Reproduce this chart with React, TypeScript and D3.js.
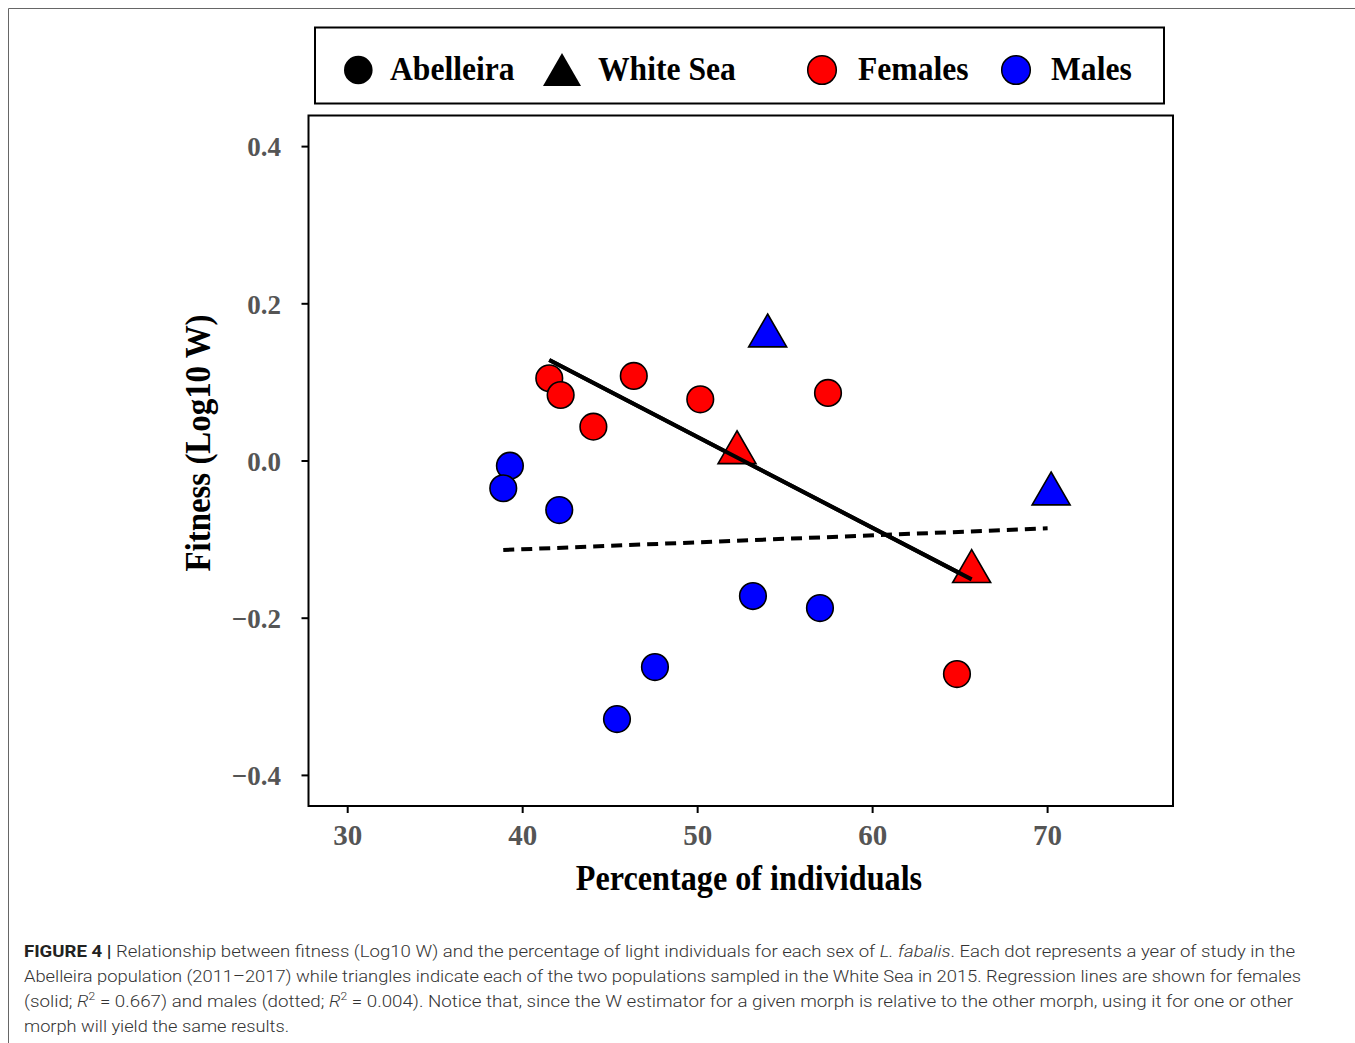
import React from 'react';
import * as d3 from 'd3';

// ---------- data ----------
const femalesAbelleiraX = [41.52, 42.17, 44.04, 46.35, 50.15, 57.45, 64.82];
const femalesAbelleiraY = [0.1053, 0.084, 0.0437, 0.1082, 0.0785, 0.0866, -0.2711];
const malesAbelleiraX = [39.27, 38.89, 42.09, 53.16, 56.99, 47.56, 45.39];
const malesAbelleiraY = [-0.006, -0.0347, -0.0624, -0.1718, -0.1871, -0.2622, -0.3284];
const femalesWhiteSeaX = [52.25, 65.66];
const femalesWhiteSeaY = [0.0106, -0.1407];
const malesWhiteSeaX = [54.0, 70.2];
const malesWhiteSeaY = [0.1591, -0.0419];
const femaleFitX = [41.52, 65.66];
const femaleFitY = [0.1286, -0.1506];
const maleFitX = [38.89, 70.0];
const maleFitY = [-0.1133, -0.0857];
const xTicks = [30, 40, 50, 60, 70];
const yTicks = [0.4, 0.2, 0.0, -0.2, -0.4];
const legendItems = ['Abelleira', 'White Sea', 'Females', 'Males'];

const RED = '#ff0000';
const BLUE = '#0000ff';
const SERIF = '"Liberation Serif", "Times New Roman", serif';
const SANS = 'Roboto, "Liberation Sans", Arial, sans-serif';

const x = d3.scaleLinear().domain([30, 70]).range([347.7, 1047.6]);
const y = d3.scaleLinear().domain([-0.4, 0.4]).range([775.4, 146.6]);

const box = { left: 308.5, right: 1173, top: 115.5, bottom: 806 };

function triPath(cx: number, cy: number, w: number) {
  const h = (w * Math.sqrt(3)) / 2;
  return `M${cx},${cy - (2 * h) / 3}L${cx + w / 2},${cy + h / 3}L${cx - w / 2},${cy + h / 3}Z`;
}

const fmtY = (v: number) => (v < 0 ? '\u2212' + Math.abs(v).toFixed(1) : v.toFixed(1));

export default function App() {
  const line = d3
    .line<[number, number]>()
    .x((d) => x(d[0]))
    .y((d) => y(d[1]));
  const femaleFit = femaleFitX.map((v, i) => [v, femaleFitY[i]] as [number, number]);
  const maleFit = maleFitX.map((v, i) => [v, maleFitY[i]] as [number, number]);

  const capStyle = { fontFamily: SANS, fontSize: 17, fill: '#333', fontWeight: 300 } as const;

  return (
    <div style={{ position: 'absolute', left: 0, top: 0 }}>
      <svg width={1355} height={1043} style={{ display: 'block', background: '#fff' }}>
        {/* outer frame */}
        <line x1={8.5} y1={8.5} x2={1355} y2={8.5} stroke="#666" strokeWidth={1} />
        <line x1={8.5} y1={8.5} x2={8.5} y2={1043} stroke="#666" strokeWidth={1} />

        {/* legend */}
        <rect x={315} y={27.5} width={849} height={76} fill="#fff" stroke="#000" strokeWidth={2} />
        <circle cx={358.3} cy={70} r={14.3} fill="#000" />
        <path d={triPath(562, 75, 38)} fill="#000" />
        <circle cx={822} cy={70} r={14.3} fill={RED} stroke="#000" strokeWidth={1.5} />
        <circle cx={1016} cy={70} r={14.3} fill={BLUE} stroke="#000" strokeWidth={1.5} />
        {[390, 598, 858, 1051].map((lx, i) => (
          <text
            key={legendItems[i]}
            transform={`translate(${lx},80) scale(0.93,1)`}
            fontFamily={SERIF}
            fontWeight="bold"
            fontSize={34}
            fill="#000"
          >
            {legendItems[i]}
          </text>
        ))}

        {/* plot box */}
        <rect
          x={box.left}
          y={box.top}
          width={box.right - box.left}
          height={box.bottom - box.top}
          fill="none"
          stroke="#000"
          strokeWidth={2}
        />

        {/* y axis */}
        {yTicks.map((t) => (
          <g key={'y' + t}>
            <line x1={box.left - 7} x2={box.left} y1={y(t)} y2={y(t)} stroke="#000" strokeWidth={2} />
            <text
              x={281}
              y={y(t)}
              dy="0.36em"
              textAnchor="end"
              fontFamily={SERIF}
              fontWeight="bold"
              fontSize={27}
              fill="#555"
            >
              {fmtY(t)}
            </text>
          </g>
        ))}
        {/* x axis */}
        {xTicks.map((t) => (
          <g key={'x' + t}>
            <line x1={x(t)} x2={x(t)} y1={box.bottom} y2={box.bottom + 7} stroke="#000" strokeWidth={2} />
            <text
              x={x(t)}
              y={845}
              textAnchor="middle"
              fontFamily={SERIF}
              fontWeight="bold"
              fontSize={29}
              fill="#555"
            >
              {t}
            </text>
          </g>
        ))}

        {/* axis titles */}
        <text
          transform="translate(749,890) scale(0.92,1)"
          textAnchor="middle"
          fontFamily={SERIF}
          fontWeight="bold"
          fontSize={35}
          fill="#000"
        >
          Percentage of individuals
        </text>
        <text
          transform="translate(210,443) rotate(-90) scale(0.94,1)"
          textAnchor="middle"
          fontFamily={SERIF}
          fontWeight="bold"
          fontSize={35}
          fill="#000"
        >
          Fitness (Log10 W)
        </text>

        {/* regression lines */}
        <path d={line(maleFit) || ''} fill="none" stroke="#000" strokeWidth={4} strokeDasharray="11,7" />
        <path d={line(femaleFit) || ''} fill="none" stroke="#000" strokeWidth={4} />

        {/* points */}
        {malesAbelleiraX.map((v, i) => (
          <circle key={'ma' + i} cx={x(v)} cy={y(malesAbelleiraY[i])} r={13.3} fill={BLUE} stroke="#000" strokeWidth={1.6} />
        ))}
        {femalesAbelleiraX.map((v, i) => (
          <circle key={'fa' + i} cx={x(v)} cy={y(femalesAbelleiraY[i])} r={13.3} fill={RED} stroke="#000" strokeWidth={1.6} />
        ))}
        {malesWhiteSeaX.map((v, i) => (
          <path key={'mw' + i} d={triPath(x(v), y(malesWhiteSeaY[i]), 38)} fill={BLUE} stroke="#000" strokeWidth={1.6} />
        ))}
        {femalesWhiteSeaX.map((v, i) => (
          <path key={'fw' + i} d={triPath(x(v), y(femalesWhiteSeaY[i]), 38)} fill={RED} stroke="#000" strokeWidth={1.6} />
        ))}
        {/* female line drawn over red triangle end as in original */}
        <path d={line(femaleFit) || ''} fill="none" stroke="#000" strokeWidth={4} />

        {/* caption */}
        <text x={24} y={957} {...capStyle} textLength={1271} lengthAdjust="spacingAndGlyphs">
          <tspan fontWeight="bold" fill="#222">FIGURE 4 |</tspan>
          <tspan> Relationship between fitness (Log10 W) and the percentage of light individuals for each sex of </tspan>
          <tspan fontStyle="italic">L. fabalis</tspan>
          <tspan>. Each dot represents a year of study in the</tspan>
        </text>
        <text x={24} y={982} {...capStyle} textLength={1277} lengthAdjust="spacingAndGlyphs">
          Abelleira population (2011–2017) while triangles indicate each of the two populations sampled in the White Sea in 2015. Regression lines are shown for females
        </text>
        <text x={24} y={1007} {...capStyle} textLength={1269} lengthAdjust="spacingAndGlyphs">
          <tspan>(solid; </tspan>
          <tspan fontStyle="italic">R</tspan>
          <tspan fontSize={11} dy={-7}>2</tspan>
          <tspan dy={7}> = 0.667) and males (dotted; </tspan>
          <tspan fontStyle="italic">R</tspan>
          <tspan fontSize={11} dy={-7}>2</tspan>
          <tspan dy={7}> = 0.004). Notice that, since the W estimator for a given morph is relative to the other morph, using it for one or other</tspan>
        </text>
        <text x={24} y={1032} {...capStyle} textLength={265} lengthAdjust="spacingAndGlyphs">
          morph will yield the same results.
        </text>
      </svg>
    </div>
  );
}
